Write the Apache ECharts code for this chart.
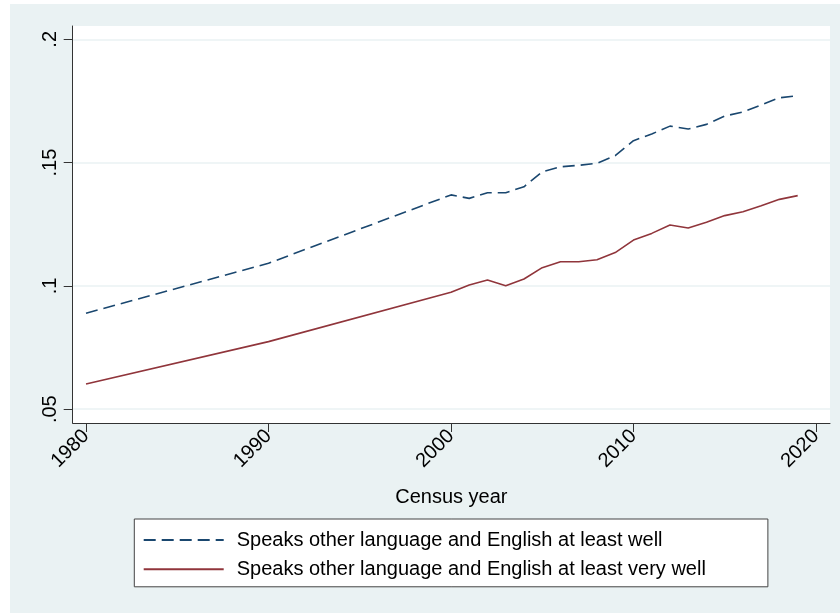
<!DOCTYPE html>
<html>
<head>
<meta charset="utf-8">
<title>English ability by census year</title>
<script src="https://cdn.jsdelivr.net/npm/echarts@6.0.0/dist/echarts.min.js"></script>
<style>
  html, body { margin: 0; padding: 0; background: #ffffff; }
  #chart { position: absolute; left: 10px; top: 4px; width: 830px; height: 609px; }
</style>
</head>
<body>
<div id="chart"></div>
<script>
// Stata s2color palette
const bgColor = '#eaf2f3';
const textColor = '#000000';
const axisColor = '#333333';
const colorList = ['#1a476f', '#90353b'];
const fontFamily = '"Liberation Sans", Arial, Helvetica, sans-serif';

// data
const years = [1980, 1990, 2000, 2001, 2002, 2003, 2004, 2005, 2006, 2007, 2008,
  2009, 2010, 2011, 2012, 2013, 2014, 2015, 2016, 2017, 2018, 2019];
// speaks other language and English at least well
const wellShare = [0.0889, 0.1092, 0.1369, 0.1355, 0.1378, 0.1378, 0.1402, 0.1463,
  0.1483, 0.1489, 0.1497, 0.1528, 0.1589, 0.1616, 0.1648, 0.1636, 0.1655, 0.1689,
  0.1705, 0.1734, 0.1763, 0.1771];
// speaks other language and English at least very well
const veryWellShare = [0.0602, 0.0774, 0.0974, 0.1004, 0.1024, 0.1001, 0.1028, 0.1074,
  0.1098, 0.1098, 0.1106, 0.1135, 0.1186, 0.1213, 0.1247, 0.1235, 0.1258, 0.1285,
  0.1301, 0.1325, 0.1351, 0.1366];

const seriesNames = ['Speaks other language and English at least well',
  'Speaks other language and English at least very well'];

// tick labels
const xTicks = [1980, 1990, 2000, 2010, 2020];
const yTicks = [0.05, 0.1, 0.15, 0.2];

// pair x and y values for a value axis
function toPoints(xs, ys) {
  return xs.map((x, i) => [x, ys[i]]);
}

let chart = echarts.init(document.getElementById('chart'));

let option = {
  backgroundColor: bgColor,
  animation: false,
  textStyle: { fontFamily: fontFamily, color: textColor },
  grid: {
    left: 62.7,
    right: 10,
    top: 22,
    bottom: 190,
    show: true,
    backgroundColor: '#ffffff',
    borderWidth: 0
  },
  legend: {
    orient: 'vertical',
    left: 124.3,
    top: 515,
    itemWidth: 80,
    itemHeight: 14,
    itemGap: 7.3,
    padding: [10, 62, 6.5, 8.4],
    backgroundColor: '#ffffff',
    borderColor: '#444444',
    borderWidth: 1,
    borderRadius: 0,
    // hide the marker dot, keep only the line sample
    itemStyle: { opacity: 0 },
    textStyle: {
      fontSize: 20,
      lineHeight: 22,
      color: textColor,
      fontFamily: fontFamily,
      padding: [0, 0, 0, 8]
    },
    data: seriesNames
  },
  xAxis: {
    type: 'value',
    min: 1979.27,
    max: 2020.77,
    name: 'Census year',
    nameLocation: 'middle',
    nameGap: 64,
    nameTextStyle: { fontSize: 20, color: textColor, fontFamily: fontFamily },
    axisLine: { show: true, onZero: false, lineStyle: { color: axisColor, width: 1 } },
    axisTick: { show: true, length: 9, customValues: xTicks, lineStyle: { color: axisColor, width: 1 } },
    axisLabel: {
      customValues: xTicks,
      rotate: 45,
      margin: 10,
      fontSize: 20,
      color: textColor,
      fontFamily: fontFamily,
      formatter: v => String(v)
    },
    splitLine: { show: false }
  },
  yAxis: {
    type: 'value',
    min: 0.0444,
    max: 0.2054,
    axisLine: { show: true, onZero: false, lineStyle: { color: axisColor, width: 1 } },
    axisTick: { show: true, length: 9, customValues: yTicks, lineStyle: { color: axisColor, width: 1 } },
    axisLabel: {
      customValues: yTicks,
      rotate: 90,
      margin: 12,
      fontSize: 20,
      color: textColor,
      fontFamily: fontFamily,
      // Stata style: drop the leading zero
      formatter: v => String(v).replace(/^0/, '')
    },
    splitLine: { show: true, lineStyle: { color: bgColor, width: 1.5 } }
  },
  series: [
    {
      name: seriesNames[0],
      type: 'line',
      symbol: 'none',
      data: toPoints(years, wellShare),
      lineStyle: { width: 1.6, type: [12, 6] }
    },
    {
      name: seriesNames[1],
      type: 'line',
      symbol: 'none',
      data: toPoints(years, veryWellShare),
      lineStyle: { width: 1.6 }
    }
  ]
};

// series colours
option.series.forEach((item, index) => {
  item.itemStyle = { color: colorList[index] };
  item.lineStyle.color = colorList[index];
});

chart.setOption(option);
</script>
</body>
</html>
